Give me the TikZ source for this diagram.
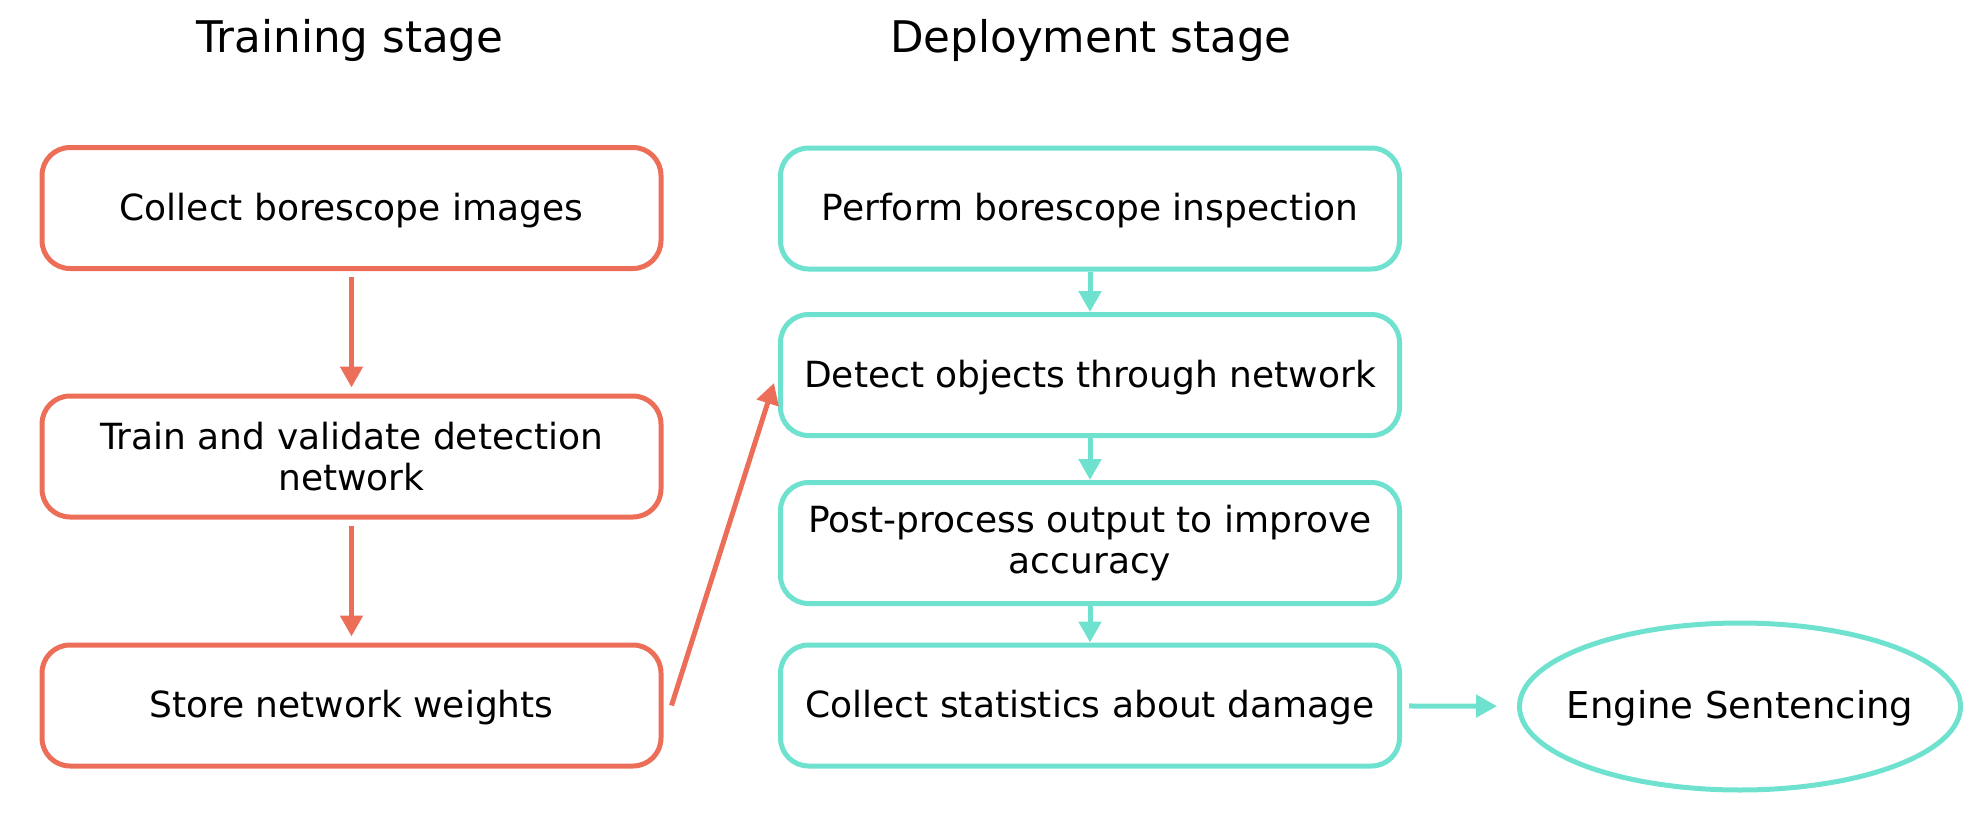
\documentclass[tikz,border=0pt]{standalone}
\usepackage{fontspec}
\setmainfont{DejaVu Sans}
\usetikzlibrary{arrows.meta,shapes.geometric}
\definecolor{trainc}{RGB}{236,110,88}
\definecolor{deployc}{RGB}{110,226,207}
\tikzset{
  box/.style={draw, line width=2.5pt, rounded corners=14pt, minimum width=309.5pt,
    minimum height=60.5pt, align=center, inner sep=0pt,
    font=\fontsize{18}{20.75}\selectfont},
  oneline/.style={text height=16.7pt, text depth=4.25pt},
  tbox/.style={box, draw=trainc},
  dbox/.style={box, draw=deployc},
  title/.style={anchor=base, font=\fontsize{21.8}{26}\selectfont, inner sep=0pt},
  tarrow/.style={draw=trainc, line width=2.5pt, -{Triangle[length=10.5pt,width=11pt]}},
  darrow/.style={draw=deployc, line width=2.5pt, -{Triangle[length=10.5pt,width=11pt]}},
}
\begin{document}
\begin{tikzpicture}[x=0.5pt,y=-0.5pt]
\useasboundingbox (0,0) rectangle (1978,814);
\node[title] (ttrain) at (350,52) {Training stage};
\node[title] (tdeploy) at (1091,52) {Deployment stage};

\node[tbox, oneline] (t1) at (351.5,208) {Collect borescope images};
\node[tbox] (t2) at (351.5,456.5) {Train and validate detection\\network};
\node[tbox, oneline] (t3) at (351.5,705.5) {Store network weights};

\node[dbox, oneline] (d1) at (1090,208.5) {Perform borescope inspection};
\node[dbox, oneline] (d2) at (1090,375) {Detect objects through network};
\node[dbox] (d3) at (1090,543) {Post-process output to improve\\accuracy};
\node[dbox, oneline] (d4) at (1090,705.5) {Collect statistics about damage};
\node[draw=deployc, line width=2.5pt, ellipse, minimum width=220.5pt, minimum height=83.5pt,
  inner xsep=-10pt, inner ysep=0pt, oneline,
  font=\fontsize{18.5}{21}\selectfont] (e) at (1740,706.5) {Engine Sentencing};

\draw[tarrow, shorten <=3pt, shorten >=3pt] (t1) -- (t2);
\draw[tarrow, shorten <=3pt, shorten >=3pt] (t2) -- (t3);
\draw[tarrow] ([xshift=4pt]t3.east) -- ([xshift=-2pt,yshift=-4pt]d2.west);

\draw[darrow] (d1) -- (d2);
\draw[darrow] (d2) -- (d3);
\draw[darrow] (d3) -- (d4);
\draw[darrow, shorten <=3.5pt, shorten >=10pt] (d4) -- (e);
\end{tikzpicture}
\end{document}
